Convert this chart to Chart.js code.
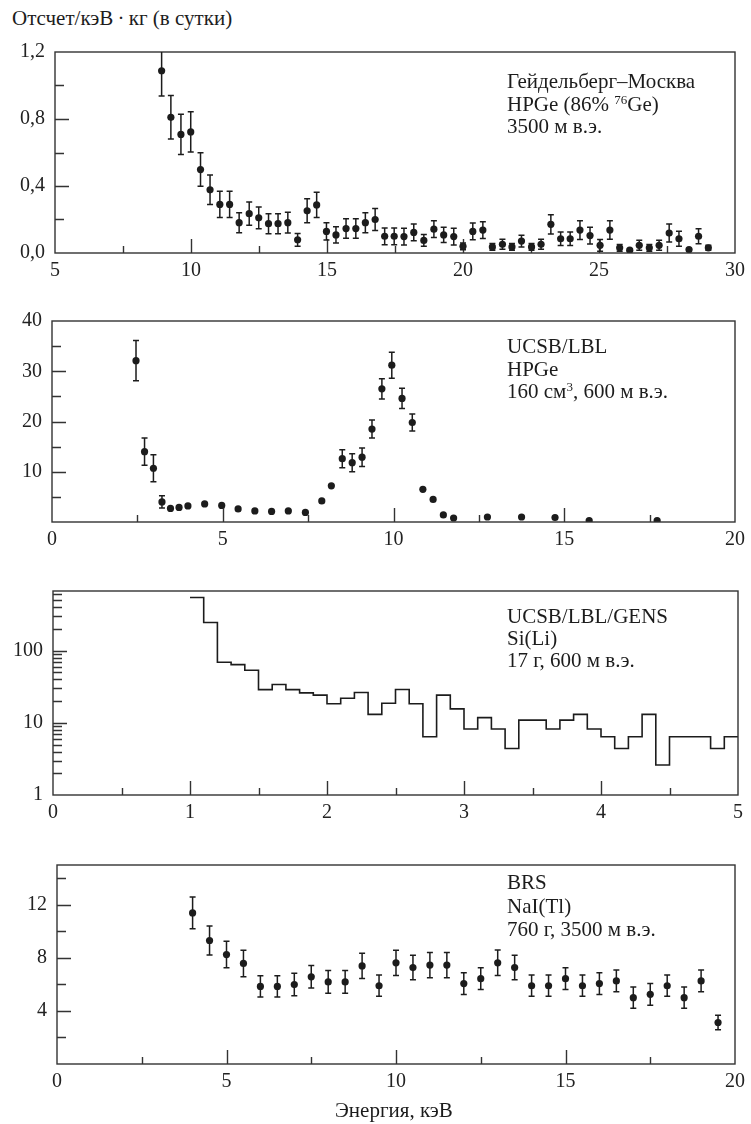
<!DOCTYPE html>
<html>
<head>
<meta charset="utf-8">
<script src="https://cdn.jsdelivr.net/npm/chart.js@4.4.1/dist/chart.umd.min.js"></script>
<style>
  body { margin: 0; background: #fff; width: 751px; height: 1124px; position: relative; overflow: hidden;
         font-family: "Liberation Serif", "DejaVu Serif", serif; color: #1c1c1c; }
  canvas { position: absolute; left: 0; }
  .t { position: absolute; font-size: 21px; line-height: 22.5px; white-space: nowrap; }
  .t sup { font-size: 13px; line-height: 0; vertical-align: 7px; }
</style>
</head>
<body>
<div class="t" style="left:12px;top:7px;">Отсчет/кэВ&#8201;·&#8201;кг (в сутки)</div>

<canvas id="c1" width="751" height="258" style="top:30px"></canvas>
<canvas id="c2" width="751" height="258" style="top:299px"></canvas>
<canvas id="c3" width="751" height="261" style="top:569px"></canvas>
<canvas id="c4" width="751" height="256" style="top:843px"></canvas>

<div class="t" style="left:507px;top:70px;">Гейдельберг–Москва<br>HPGe (86% <sup>76</sup>Ge)<br>3500 м в.э.</div>
<div class="t" style="left:507px;top:335px;">UCSB/LBL<br>HPGe<br>160 см<sup>3</sup>, 600 м в.э.</div>
<div class="t" style="left:507px;top:605px;line-height:22.2px;">UCSB/LBL/GENS<br>Si(Li)<br>17 г, 600 м в.э.</div>
<div class="t" style="left:507px;top:871px;line-height:23.5px;">BRS<br>NaI(Tl)<br>760 г, 3500 м в.э.</div>

<div class="t" style="left:335px;top:1099px;">Энергия, кэВ</div>

<script>
const INK = '#1c1c1c';
const FRAME = '#333';

// Heidelberg-Moscow, HPGe
const geE = [8.92, 9.26, 9.63, 9.99, 10.35, 10.70, 11.06, 11.42, 11.77, 12.14, 12.49, 12.85, 13.2, 13.56,
  13.92, 14.27, 14.62, 14.98, 15.33, 15.70, 16.06, 16.41, 16.77, 17.12, 17.47, 17.83, 18.19, 18.56, 18.93,
  19.29, 19.66, 20.0, 20.36, 20.73, 21.08, 21.45, 21.8, 22.15, 22.52, 22.87, 23.23, 23.59, 23.94, 24.3,
  24.67, 25.04, 25.4, 25.76, 26.13, 26.48, 26.85, 27.21, 27.58, 27.94, 28.31, 28.66, 29.02];
const geRate = [1.088, 0.81, 0.708, 0.723, 0.498, 0.377, 0.29, 0.29, 0.181, 0.235, 0.21, 0.175, 0.175, 0.181,
  0.079, 0.252, 0.287, 0.129, 0.108, 0.146, 0.146, 0.181, 0.2, 0.1, 0.1, 0.098, 0.123, 0.075, 0.142,
  0.108, 0.098, 0.04, 0.129, 0.137, 0.036, 0.052, 0.036, 0.071, 0.036, 0.052, 0.171, 0.085, 0.085, 0.137,
  0.104, 0.046, 0.137, 0.031, 0.017, 0.046, 0.031, 0.046, 0.119, 0.085, 0.021, 0.1, 0.031];
const geErr = [0.15, 0.13, 0.12, 0.12, 0.10, 0.088, 0.078, 0.078, 0.06, 0.07, 0.065, 0.06, 0.06, 0.062,
  0.038, 0.072, 0.075, 0.052, 0.048, 0.058, 0.058, 0.06, 0.065, 0.05, 0.05, 0.05, 0.05, 0.035, 0.05,
  0.045, 0.05, 0.02, 0.05, 0.05, 0.02, 0.03, 0.02, 0.035, 0.02, 0.03, 0.058, 0.04, 0.04, 0.056,
  0.05, 0.035, 0.055, 0.02, 0.005, 0.03, 0.02, 0.03, 0.054, 0.045, 0.005, 0.045, 0.015];

// UCSB/LBL, HPGe
const ucE = [2.46, 2.71, 2.97, 3.22, 3.47, 3.72, 3.98, 4.47, 4.97, 5.45, 5.94, 6.43, 6.92, 7.42, 7.9, 8.18,
  8.5, 8.79, 9.08, 9.37, 9.66, 9.95, 10.25, 10.55, 10.86, 11.16, 11.46, 11.76, 12.75, 13.75, 14.73, 15.73, 17.72];
const ucRate = [32.1, 14.0, 10.7, 4.0, 2.7, 2.9, 3.2, 3.6, 3.3, 2.6, 2.2, 2.1, 2.2, 1.9, 4.2, 7.2,
  12.6, 11.8, 12.9, 18.5, 26.5, 31.2, 24.6, 19.8, 6.5, 4.5, 1.4, 0.8, 1.0, 1.0, 0.9, 0.3, 0.3];
const ucErr = [4.0, 2.7, 2.7, 1.2, 0, 0, 0, 0, 0, 0, 0, 0, 0, 0, 0, 0,
  1.8, 1.8, 1.85, 1.8, 2.0, 2.6, 2.0, 1.7, 0, 0, 0, 0, 0, 0, 0, 0, 0];

// UCSB/LBL/GENS, Si(Li) — histogram, bin edges in keV
const siEdges = [1.0, 1.1, 1.2, 1.3, 1.4, 1.5, 1.6, 1.7, 1.8, 1.9, 2.0, 2.1, 2.2, 2.3, 2.4, 2.5, 2.6, 2.7,
  2.8, 2.9, 3.0, 3.1, 3.2, 3.3, 3.4, 3.5, 3.6, 3.7, 3.8, 3.9, 4.0, 4.1, 4.2, 4.3, 4.4, 4.5, 4.6, 4.7,
  4.8, 4.9, 5.0];
const siRate = [545, 245, 69, 64, 53.5, 28.8, 34, 28.8, 26, 24.2, 18.4, 21.9, 26.3, 13.1, 18.7, 29, 18.4,
  6.4, 24.2, 15.6, 8.2, 11.8, 8.2, 4.4, 10.9, 10.9, 8.2, 10.9, 13.1, 8.2, 6.4, 4.4, 6.4, 13.1, 2.6,
  6.4, 6.4, 6.4, 4.4, 6.4];

// BRS, NaI(Tl)
const brsE = [4, 4.5, 5, 5.5, 6, 6.5, 7, 7.5, 8, 8.5, 9, 9.5, 10, 10.5, 11, 11.5, 12, 12.5, 13, 13.5,
  14, 14.5, 15, 15.5, 16, 16.5, 17, 17.5, 18, 18.5, 19, 19.5];
const brsRate = [11.39, 9.31, 8.25, 7.58, 5.85, 5.85, 5.99, 6.57, 6.19, 6.19, 7.39, 5.9, 7.63, 7.27, 7.46,
  7.46, 6.06, 6.43, 7.63, 7.27, 5.9, 5.9, 6.43, 5.9, 6.06, 6.26, 5.0, 5.25, 5.9, 5.0, 6.26, 3.13];
const brsErr = [1.2, 1.1, 1.0, 1.0, 0.8, 0.8, 0.85, 0.85, 0.85, 0.85, 0.95, 0.8, 0.95, 0.92, 0.95, 0.95,
  0.82, 0.82, 0.96, 0.92, 0.8, 0.8, 0.82, 0.8, 0.82, 0.82, 0.8, 0.82, 0.8, 0.8, 0.82, 0.55];

// tick positions per panel
const ge_xLabels = [5, 10, 15, 20, 25, 30], ge_xMinor = [7.5, 12.5, 17.5, 22.5, 27.5];
const ge_yLabels = [0, 0.4, 0.8, 1.2], ge_yMinor = [0.2, 0.6, 1.0];
const uc_xLabels = [0, 5, 10, 15, 20], uc_xMinor = [2.5, 7.5, 12.5, 17.5];
const uc_yLabels = [10, 20, 30, 40], uc_yMinor = [5, 15, 25, 35];
const si_xLabels = [0, 1, 2, 3, 4, 5], si_xMinor = [0.5, 1.5, 2.5, 3.5, 4.5];
const si_yLabels = [1, 10, 100], si_yMinor = [2, 3, 4, 5, 6, 7, 8, 9, 20, 30, 40, 50, 60, 70, 80, 90, 200, 300, 400, 500, 600];
const brs_xLabels = [0, 5, 10, 15, 20], brs_xMinor = [2.5, 7.5, 12.5, 17.5];
const brs_yLabels = [4, 8, 12], brs_yMinor = [2, 6, 10, 14];

const tickFont = { family: '"Liberation Serif", serif', size: 20 };

function framePlugin(cfg) {
  return {
    id: 'frame',
    afterDatasetsDraw(chart) {
      const { ctx, chartArea: a, scales: { x, y } } = chart;
      ctx.save();
      ctx.strokeStyle = FRAME;
      ctx.lineWidth = 1.4;
      ctx.strokeRect(a.left, a.top, a.right - a.left, a.bottom - a.top);
      ctx.beginPath();
      const xt = (list, len) => list.forEach(v => {
        const px = Math.round(x.getPixelForValue(v)) + 0.5;
        if (px <= a.left + 1 || px >= a.right - 1) return;
        ctx.moveTo(px, a.bottom); ctx.lineTo(px, a.bottom - len);
      });
      const yt = (list, len) => list.forEach(v => {
        const py = Math.round(y.getPixelForValue(v)) + 0.5;
        if (py >= a.bottom - 1 || py <= a.top + 1) return;
        ctx.moveTo(a.left, py); ctx.lineTo(a.left + len, py);
      });
      xt(cfg.xLabels, 14); xt(cfg.xMinor, 7);
      yt(cfg.yLabels, 14); yt(cfg.yMinor, 9);
      ctx.stroke();

      if (cfg.err) {
        ctx.beginPath();
        ctx.rect(a.left, a.top, a.right - a.left, a.bottom - a.top);
        ctx.clip();
        ctx.strokeStyle = INK;
        ctx.lineWidth = 1.5;
        const ds = chart.data.datasets[0].data;
        ctx.beginPath();
        ds.forEach((p, i) => {
          const e = cfg.err[i];
          if (!e) return;
          const px = x.getPixelForValue(p.x);
          const t = y.getPixelForValue(p.y + e), b = y.getPixelForValue(p.y - e);
          ctx.moveTo(px, t); ctx.lineTo(px, b);
          ctx.moveTo(px - 3, t); ctx.lineTo(px + 3, t);
          ctx.moveTo(px - 3, b); ctx.lineTo(px + 3, b);
        });
        ctx.stroke();
      }
      ctx.restore();
    }
  };
}

function makeChart(id, cfg) {
  return new Chart(document.getElementById(id), {
    type: cfg.type,
    data: { datasets: [cfg.dataset] },
    options: {
      responsive: false,
      animation: false,
      events: [],
      layout: { padding: { top: 15, left: 0, right: cfg.right, bottom: 0 } },
      plugins: { legend: { display: false }, tooltip: { enabled: false } },
      scales: {
        x: {
          type: 'linear', min: cfg.xMin, max: cfg.xMax,
          grid: { display: false, drawTicks: false }, border: { display: false },
          afterBuildTicks: s => { s.ticks = cfg.xLabels.map(v => ({ value: v })); },
          afterFit: s => { s.height = 35; },
          ticks: { font: tickFont, color: '#222', padding: 6, maxRotation: 0, autoSkip: false,
                   callback: v => String(v) }
        },
        y: {
          type: cfg.yType || 'linear', min: cfg.yMin, max: cfg.yMax,
          grid: { display: false, drawTicks: false }, border: { display: false },
          afterBuildTicks: s => { s.ticks = cfg.yLabels.map(v => ({ value: v })); },
          afterFit: s => { s.width = cfg.left; },
          ticks: { font: tickFont, color: '#222', padding: 10, autoSkip: false,
                   callback: cfg.yFmt || (v => String(v)) }
        }
      }
    },
    plugins: [framePlugin(cfg)]
  });
}

function scatterSet(xs, ys) {
  return {
    data: xs.map((v, i) => ({ x: v, y: ys[i] })),
    showLine: false, pointRadius: 3.6, pointBackgroundColor: INK, pointBorderWidth: 0
  };
}

makeChart('c1', {
  type: 'scatter', dataset: scatterSet(geE, geRate), err: geErr,
  left: 55, right: 12, xMin: 5, xMax: 30, yMin: 0, yMax: 1.2,
  xLabels: ge_xLabels, xMinor: ge_xMinor, yLabels: ge_yLabels, yMinor: ge_yMinor,
  yFmt: v => v.toFixed(1).replace('.', ',')
});

makeChart('c2', {
  type: 'scatter', dataset: scatterSet(ucE, ucRate), err: ucErr,
  left: 52, right: 13, xMin: 0, xMax: 20, yMin: 0, yMax: 40,
  xLabels: uc_xLabels, xMinor: uc_xMinor, yLabels: uc_yLabels, yMinor: uc_yMinor
});

makeChart('c3', {
  type: 'line',
  dataset: {
    data: siEdges.map((v, i) => ({ x: v, y: siRate[Math.min(i, siRate.length - 1)] })),
    stepped: 'before', borderColor: INK, borderWidth: 1.6, pointRadius: 0, fill: false
  },
  left: 53, right: 13, xMin: 0, xMax: 5, yType: 'logarithmic', yMin: 1, yMax: 670,
  xLabels: si_xLabels, xMinor: si_xMinor, yLabels: si_yLabels, yMinor: si_yMinor
});

makeChart('c4', {
  type: 'scatter', dataset: scatterSet(brsE, brsRate), err: brsErr,
  left: 57, right: 12, xMin: 0, xMax: 20, yMin: 0, yMax: 15,
  xLabels: brs_xLabels, xMinor: brs_xMinor, yLabels: brs_yLabels, yMinor: brs_yMinor
});
</script>
</body>
</html>
